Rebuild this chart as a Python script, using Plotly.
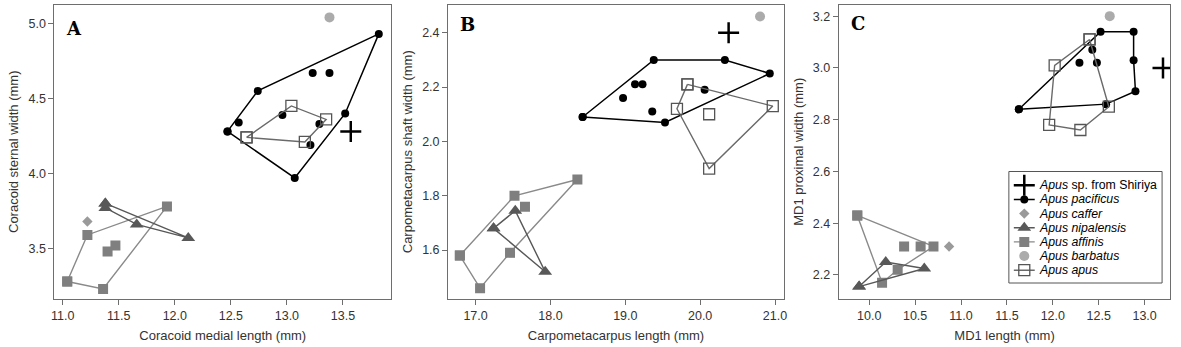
import plotly.graph_objects as go

# ---------------- Panel A: Coracoid ----------------
A_pac_x = [12.47, 12.74, 13.82, 13.52, 13.07, 12.57, 13.23, 13.38, 12.96, 13.29, 13.21]
A_pac_y = [4.28, 4.55, 4.93, 4.40, 3.97, 4.34, 4.67, 4.67, 4.39, 4.33, 4.19]
A_pac_hull = [0, 1, 2, 3, 4]
A_apu_x = [12.64, 13.04, 13.35, 13.16]
A_apu_y = [4.24, 4.45, 4.36, 4.21]
A_apu_hull = [0, 1, 2, 3]
A_nip_x = [11.38, 12.12, 11.66, 11.38]
A_nip_y = [3.80, 3.57, 3.66, 3.77]
A_nip_hull = [0, 1, 2, 3]
A_aff_x = [11.04, 11.22, 11.93, 11.36, 11.40, 11.47]
A_aff_y = [3.28, 3.59, 3.78, 3.23, 3.48, 3.52]
A_aff_hull = [0, 1, 2, 3]
A_caf_x, A_caf_y = [11.22], [3.68]
A_bar_x, A_bar_y = [13.38], [5.04]
A_shi_x, A_shi_y = [13.57], [4.28]

# ---------------- Panel B: Carpometacarpus ----------------
B_pac_x = [18.43, 19.38, 20.33, 20.93, 19.53, 18.97, 19.13, 19.23, 19.36, 20.06]
B_pac_y = [2.09, 2.30, 2.30, 2.25, 2.07, 2.16, 2.21, 2.21, 2.11, 2.19]
B_pac_hull = [0, 1, 2, 3, 4]
B_apu_x = [19.83, 20.97, 20.12, 19.69, 20.12]
B_apu_y = [2.21, 2.13, 1.90, 2.12, 2.10]
B_apu_hull = [0, 1, 2, 3]
B_nip_x = [17.24, 17.53, 17.93]
B_nip_y = [1.68, 1.745, 1.52]
B_nip_hull = [0, 1, 2]
B_aff_x = [16.79, 17.52, 18.36, 17.46, 17.06, 17.66]
B_aff_y = [1.58, 1.80, 1.86, 1.59, 1.46, 1.76]
B_aff_hull = [0, 1, 2, 3, 4]
B_caf_x, B_caf_y = [], []
B_bar_x, B_bar_y = [20.80], [2.46]
B_shi_x, B_shi_y = [20.38], [2.40]

# ---------------- Panel C: MD1 ----------------
C_pac_x = [11.63, 12.52, 12.88, 12.88, 12.90, 12.58, 12.29, 12.43, 12.48]
C_pac_y = [2.84, 3.14, 3.14, 3.03, 2.91, 2.86, 3.02, 3.07, 3.02]
C_pac_hull = [0, 1, 2, 3, 4, 5]
C_apu_x = [12.40, 12.02, 11.96, 12.30, 12.61]
C_apu_y = [3.11, 3.01, 2.78, 2.76, 2.85]
C_apu_hull = [0, 1, 2, 3, 4]
C_nip_x = [9.89, 10.18, 10.60]
C_nip_y = [2.155, 2.25, 2.225]
C_nip_hull = [0, 1, 2]
C_aff_x = [9.87, 10.70, 10.31, 10.14, 10.38, 10.56]
C_aff_y = [2.43, 2.31, 2.22, 2.17, 2.31, 2.31]
C_aff_hull = [0, 1, 2, 3]
C_caf_x, C_caf_y = [10.87], [2.31]
C_bar_x, C_bar_y = [12.62], [3.20]
C_shi_x, C_shi_y = [13.20], [3.00]

panel_letters = ["A", "B", "C"]
x_titles = ["Coracoid medial length (mm)", "Carpometacarpus length (mm)", "MD1 length (mm)"]
y_titles = ["Coracoid sternal width (mm)", "Carpometacarpus shaft width (mm)", "MD1 proximal width (mm)"]
x_ticks = [[11.0, 11.5, 12.0, 12.5, 13.0, 13.5], [17.0, 18.0, 19.0, 20.0, 21.0],
           [10.0, 10.5, 11.0, 11.5, 12.0, 12.5, 13.0]]
y_ticks = [[3.5, 4.0, 4.5, 5.0], [1.6, 1.8, 2.0, 2.2, 2.4], [2.2, 2.4, 2.6, 2.8, 3.0, 3.2]]
x_ranges = [[10.926, 13.929], [16.632, 21.12], [9.668, 13.28]]
y_ranges = [[3.163, 5.126], [1.42, 2.504], [2.107, 3.245]]

legend_keys = ["shi", "pac", "caf", "nip", "aff", "bar", "apu"]

panels = [
    dict(pac=(A_pac_x, A_pac_y, A_pac_hull), apu=(A_apu_x, A_apu_y, A_apu_hull),
         nip=(A_nip_x, A_nip_y, A_nip_hull), aff=(A_aff_x, A_aff_y, A_aff_hull),
         caf=(A_caf_x, A_caf_y), bar=(A_bar_x, A_bar_y), shi=(A_shi_x, A_shi_y)),
    dict(pac=(B_pac_x, B_pac_y, B_pac_hull), apu=(B_apu_x, B_apu_y, B_apu_hull),
         nip=(B_nip_x, B_nip_y, B_nip_hull), aff=(B_aff_x, B_aff_y, B_aff_hull),
         caf=(B_caf_x, B_caf_y), bar=(B_bar_x, B_bar_y), shi=(B_shi_x, B_shi_y)),
    dict(pac=(C_pac_x, C_pac_y, C_pac_hull), apu=(C_apu_x, C_apu_y, C_apu_hull),
         nip=(C_nip_x, C_nip_y, C_nip_hull), aff=(C_aff_x, C_aff_y, C_aff_hull),
         caf=(C_caf_x, C_caf_y), bar=(C_bar_x, C_bar_y), shi=(C_shi_x, C_shi_y)),
]

styles = {
    "shi": dict(name="<i>Apus</i> sp. from Shiriya",
                marker=dict(symbol="cross-thin", size=15, color="black",
                            line=dict(color="black", width=2.5))),
    "pac": dict(name="<i>Apus pacificus</i>", line=dict(color="black", width=1.5),
                marker=dict(symbol="circle", size=8, color="black")),
    "caf": dict(name="<i>Apus caffer</i>",
                marker=dict(symbol="diamond", size=8, color="#9a9a9a")),
    "nip": dict(name="<i>Apus nipalensis</i>", line=dict(color="#585858", width=1.4),
                marker=dict(symbol="triangle-up", size=12, color="#585858")),
    "aff": dict(name="<i>Apus affinis</i>", line=dict(color="#8a8a8a", width=1.4),
                marker=dict(symbol="square", size=10, color="#7f7f7f")),
    "bar": dict(name="<i>Apus barbatus</i>",
                marker=dict(symbol="circle", size=10, color="#ababab")),
    "apu": dict(name="<i>Apus apus</i>", line=dict(color="#6a6a6a", width=1.4),
                marker=dict(symbol="square-open", size=11, color="#555555",
                            line=dict(width=1.3, color="#555555"))),
}

fig = go.Figure()
draw_order = ["aff", "nip", "caf", "pac", "apu", "bar", "shi"]
for i, p in enumerate(panels):
    xa = "x" if i == 0 else f"x{i+1}"
    ya = "y" if i == 0 else f"y{i+1}"
    for key in draw_order:
        st = styles[key]
        data = p[key]
        if len(data) == 3:
            xs, ys, hull = data
            hx = [xs[k] for k in hull] + [xs[hull[0]]]
            hy = [ys[k] for k in hull] + [ys[hull[0]]]
            fig.add_trace(go.Scatter(x=hx, y=hy, mode="lines+markers", name=st["name"],
                                     line=st["line"], marker=st["marker"],
                                     showlegend=False, xaxis=xa, yaxis=ya))
            rest = [k for k in range(len(xs)) if k not in hull]
            if rest:
                fig.add_trace(go.Scatter(x=[xs[k] for k in rest], y=[ys[k] for k in rest],
                                         mode="markers", marker=st["marker"], name=st["name"],
                                         showlegend=False, xaxis=xa, yaxis=ya))
        else:
            xs, ys = data
            if not xs:
                continue
            fig.add_trace(go.Scatter(x=xs, y=ys, mode="markers", name=st["name"],
                                     marker=st["marker"], showlegend=False,
                                     xaxis=xa, yaxis=ya))

W, H = 1181, 347
x_domains = [[51.7 / W, 390 / W], [447.3 / W, 785 / W], [840 / W, 1173.3 / W]]
y_domain = [1 - 299 / H, 1 - 4.5 / H]

FONT = "Liberation Sans, Arial, sans-serif"
axis_common = dict(showline=True, linecolor="#6e6e6e", linewidth=1, mirror=True,
                   ticks="outside", ticklen=5, tickcolor="#6e6e6e", showgrid=False,
                   zeroline=False, tickformat=".1f",
                   tickfont=dict(family=FONT, size=12.5, color="#333"))
layout = {}
for i in range(3):
    sx = "" if i == 0 else str(i + 1)
    layout[f"xaxis{sx}"] = dict(axis_common, domain=x_domains[i], range=x_ranges[i],
                                tickvals=x_ticks[i], anchor=f"y{sx}",
                                title=dict(text=x_titles[i], standoff=8,
                                           font=dict(size=13, color="#333", family=FONT)))
    layout[f"yaxis{sx}"] = dict(axis_common, domain=y_domain, range=y_ranges[i],
                                tickvals=y_ticks[i], anchor=f"x{sx}",
                                title=dict(text=y_titles[i], standoff=6,
                                           font=dict(size=13, color="#333", family=FONT)))

# ---- Manual legend (compact rows) on an auxiliary pixel-scaled axis ----
LB = dict(x0=1011, x1=1165, y0=171.5, y1=283)   # legend box, pixels
row0, row_step = 185.3, 14.15
sym_x, line_x0, line_x1, text_x = 1026.5, 1016, 1037, 1039.5
layout["xaxis4"] = dict(domain=[LB["x0"] / W, LB["x1"] / W], range=[LB["x0"], LB["x1"]],
                        visible=False, fixedrange=True, anchor="y4")
layout["yaxis4"] = dict(domain=[1 - LB["y1"] / H, 1 - LB["y0"] / H], range=[LB["y1"], LB["y0"]],
                        visible=False, fixedrange=True, anchor="x4")

annotations = []
for r, key in enumerate(legend_keys):
    st = styles[key]
    yy = row0 + r * row_step
    if "line" in st:
        fig.add_trace(go.Scatter(x=[line_x0, line_x1], y=[yy, yy], mode="lines",
                                 line=st["line"], showlegend=False, hoverinfo="skip",
                                 xaxis="x4", yaxis="y4"))
    fig.add_trace(go.Scatter(x=[sym_x], y=[yy], mode="markers", marker=st["marker"],
                             showlegend=False, hoverinfo="skip", xaxis="x4", yaxis="y4"))
    annotations.append(dict(text=st["name"], x=text_x / W, y=1 - yy / H, xref="paper",
                            yref="paper", xanchor="left", yanchor="middle", showarrow=False,
                            font=dict(family=FONT, size=12.3, color="black")))

shapes = [dict(type="rect", xref="paper", yref="paper", x0=LB["x0"] / W, x1=LB["x1"] / W,
               y0=1 - LB["y1"] / H, y1=1 - LB["y0"] / H, line=dict(color="#555", width=1),
               fillcolor="rgba(0,0,0,0)", layer="above")]

letter_pos = [(61, 16), (457, 12), (850, 11)]
for letter, (lx, ly) in zip(panel_letters, letter_pos):
    annotations.append(dict(text=f"<b>{letter}</b>", x=lx / W, y=1 - ly / H, xref="paper",
                            yref="paper", xanchor="left", yanchor="top", showarrow=False,
                            font=dict(family="DejaVu Serif, Liberation Serif, serif", size=18,
                                      color="black")))

fig.update_layout(
    **layout,
    annotations=annotations,
    shapes=shapes,
    width=W, height=H,
    margin=dict(l=0, r=0, t=0, b=0),
    paper_bgcolor="white", plot_bgcolor="white",
    showlegend=False,
    font=dict(family=FONT),
)

fig.write_html("out.html")
